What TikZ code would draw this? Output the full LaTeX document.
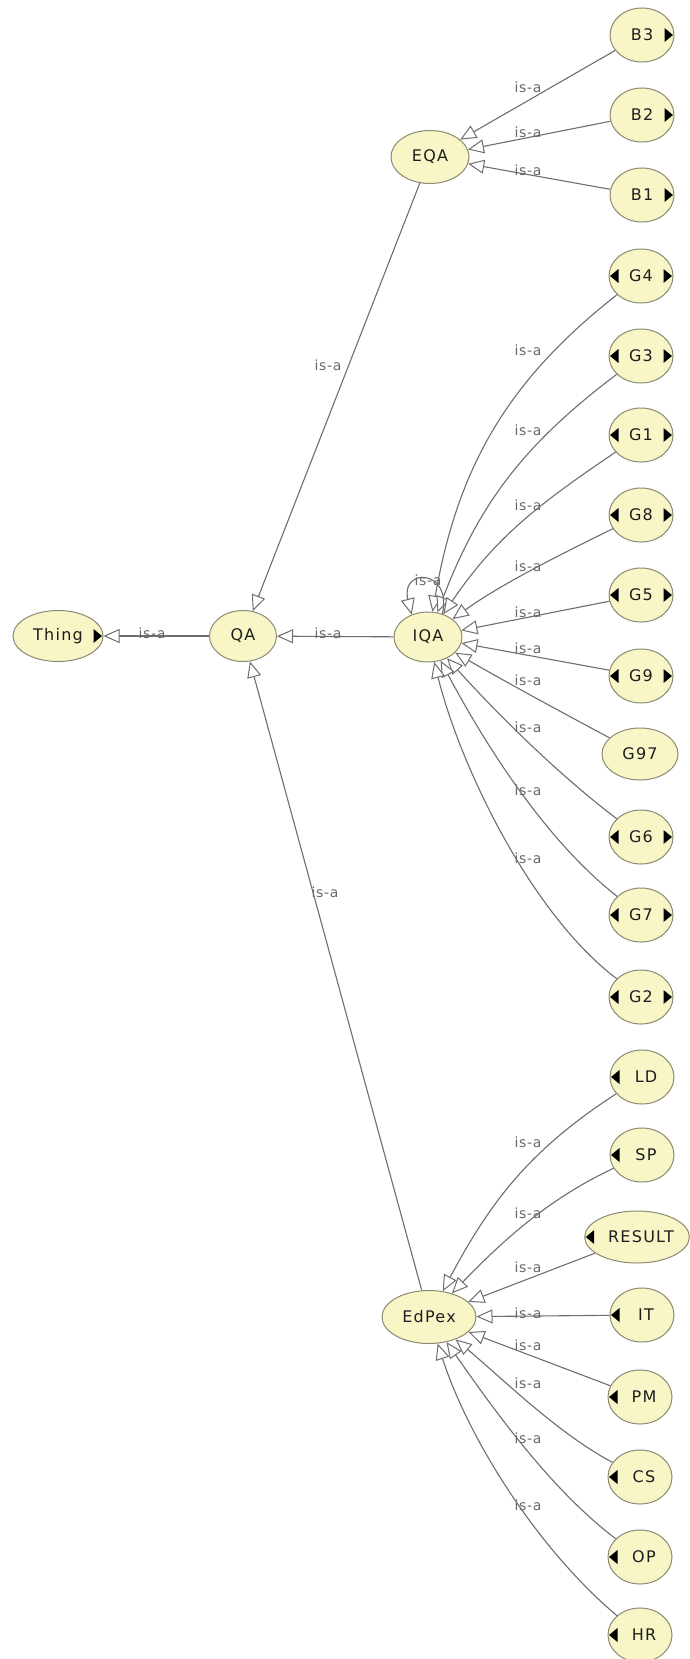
\documentclass[tikz,border=0pt]{standalone}
\usepackage{fontspec}
\usetikzlibrary{arrows.meta,shapes.geometric}
\newfontfamily\nodefont[LetterSpace=8]{DejaVu Sans}
\newfontfamily\labfont[LetterSpace=5]{DejaVu Sans}
\definecolor{nfill}{HTML}{F8F6C6}
\definecolor{nborder}{HTML}{8C8A72}
\definecolor{edgecol}{HTML}{6E6E6E}
\definecolor{labcol}{HTML}{6A6A6A}
\definecolor{txtcol}{HTML}{1E1E1E}
\newcommand\mkrtri[1]{\fill[black] ([xshift=-1.5pt]#1.east) -- ++(-8.5,7) -- ++(0,-14) -- cycle;}
\newcommand\mkltri[1]{\fill[black] ([xshift=1.5pt]#1.west) -- ++(8.5,7) -- ++(0,-14) -- cycle;}
\begin{document}
\begin{tikzpicture}[x=1pt,y=1pt,
  cls/.style={ellipse, draw=nborder, fill=nfill, line width=1pt, inner sep=0pt,
    text=txtcol, font={\nodefont\fontsize{16}{18}\selectfont},
    minimum width=64pt, minimum height=54pt},
  isa/.style={draw=edgecol, line width=1.1pt,
    -{Triangle[length=16pt,width=14pt,fill=white,line width=1pt]}},
  lab/.style={text=labcol, font={\labfont\fontsize{14}{16}\selectfont}, inner sep=0pt},
]
\useasboundingbox[fill=white] (0,0) rectangle (689,-1659);

% ---- nodes ----
\node[cls, minimum width=90pt, minimum height=51pt] (Thing) at (58,-636) {Thing\hspace{12pt}};
\node[cls, minimum width=67pt, minimum height=51pt] (QA) at (243,-636) {QA};
\node[cls, minimum width=78pt, minimum height=53pt] (EQA) at (430,-157) {EQA};
\node[cls, minimum width=68pt, minimum height=50pt] (IQA) at (428,-637) {IQA};
\node[cls, minimum width=94pt, minimum height=53pt] (EdPex) at (429,-1317) {EdPex};

\node[cls] (B3) at (642,-35) {B3\hspace{6pt}};
\node[cls] (B2) at (642,-115) {B2\hspace{6pt}};
\node[cls] (B1) at (642,-195) {B1\hspace{6pt}};

\node[cls] (G4) at (641,-276) {G4};
\node[cls] (G3) at (641,-356) {G3};
\node[cls] (G1) at (641,-435) {G1};
\node[cls] (G8) at (641,-515) {G8};
\node[cls] (G5) at (641,-595) {G5};
\node[cls] (G9) at (641,-676) {G9};
\node[cls, minimum width=76pt, minimum height=52pt] (G97) at (640,-754) {G97};
\node[cls] (G6) at (641,-837) {G6};
\node[cls] (G7) at (641,-915) {G7};
\node[cls] (G2) at (641,-997) {G2};

\node[cls] (LD) at (642,-1077) {\hspace{8pt}LD};
\node[cls] (SP) at (642,-1155) {\hspace{8pt}SP};
\node[cls, minimum width=104pt, minimum height=52pt] (RESULT) at (637,-1237) {\hspace{8pt}RESULT};
\node[cls] (IT) at (642,-1315) {\hspace{8pt}IT};
\node[cls] (PM) at (640,-1397) {\hspace{8pt}PM};
\node[cls] (CS) at (640,-1477) {\hspace{8pt}CS};
\node[cls] (OP) at (640,-1557) {\hspace{8pt}OP};
\node[cls] (HR) at (640,-1635) {\hspace{8pt}HR};

% ---- small black expander triangles ----
\mkrtri{Thing}
\mkrtri{B3}\mkrtri{B2}\mkrtri{B1}
\foreach \n in {G4,G3,G1,G8,G5,G9,G6,G7,G2}{\mkrtri{\n}\mkltri{\n}}
\foreach \n in {LD,SP,RESULT,IT,PM,CS,OP,HR}{\mkltri{\n}}

% ---- edges ----
\draw[isa] (QA) -- (Thing);
\draw[isa] (IQA) -- (QA);
\draw[isa] (EQA) -- (QA);
\draw[isa] (EdPex) -- (QA);

\draw[isa] (B3) -- (EQA);
\draw[isa] (B2) -- (EQA);
\draw[isa] (B1) -- (EQA);

\draw[isa] (G4) to[out=218,in=80] (IQA);
\draw[isa] (G3) to[out=217,in=69] (IQA);
\draw[isa] (G1) to[out=214,in=56] (IQA);
\draw[isa] (G8) to[out=206,in=36,looseness=0.8] (IQA);
\draw[isa] (G5) -- (IQA);
\draw[isa] (G9) -- (IQA);
\draw[isa] (G97) to[out=152,in=-30,looseness=0.8] (IQA);
\draw[isa] (G6) to[out=143,in=-48,looseness=0.8] (IQA);
\draw[isa] (G7) to[out=142,in=-62,looseness=0.8] (IQA);
\draw[isa] (G2) to[out=143,in=-76,looseness=0.75] (IQA);
\draw[isa] (IQA.58) .. controls (452,-568) and (400,-568) .. (IQA.126);

\draw[isa] (LD) to[out=213,in=62] (EdPex);
\draw[isa] (SP) to[out=205,in=46,looseness=0.9] (EdPex);
\draw[isa] (RESULT) -- (EdPex);
\draw[isa] (IT) -- (EdPex);
\draw[isa] (PM) -- (EdPex);
\draw[isa] (CS) to[out=152,in=-40,looseness=0.8] (EdPex);
\draw[isa] (OP) to[out=143,in=-55,looseness=0.8] (EdPex);
\draw[isa] (HR) to[out=140,in=-72,looseness=0.8] (EdPex);

% ---- edge labels ----
\node[lab] (l1) at (152,-633) {is-a};
\node[lab] (l2) at (328,-633) {is-a};
\node[lab] (l3) at (328,-365) {is-a};
\node[lab] (l4) at (325,-892) {is-a};
\node[lab] (lb3) at (528,-87) {is-a};
\node[lab] (lb2) at (528,-132) {is-a};
\node[lab] (lb1) at (528,-170) {is-a};
\node[lab] (lg4) at (528,-350) {is-a};
\node[lab] (lg3) at (528,-430) {is-a};
\node[lab] (lg1) at (528,-505) {is-a};
\node[lab] (lg8) at (528,-566) {is-a};
\node[lab] (lg5) at (528,-612) {is-a};
\node[lab] (lg9) at (528,-648) {is-a};
\node[lab] (lg97) at (528,-680) {is-a};
\node[lab] (lg6) at (528,-727) {is-a};
\node[lab] (lg7) at (528,-790) {is-a};
\node[lab] (lg2) at (528,-858) {is-a};
\node[lab] (lself) at (428,-580) {is-a};
\node[lab] (lld) at (528,-1142) {is-a};
\node[lab] (lsp) at (528,-1213) {is-a};
\node[lab] (lres) at (528,-1267) {is-a};
\node[lab] (lit) at (528,-1313) {is-a};
\node[lab] (lpm) at (528,-1345) {is-a};
\node[lab] (lcs) at (528,-1383) {is-a};
\node[lab] (lop) at (528,-1438) {is-a};
\node[lab] (lhr) at (528,-1505) {is-a};
\end{tikzpicture}
\end{document}
